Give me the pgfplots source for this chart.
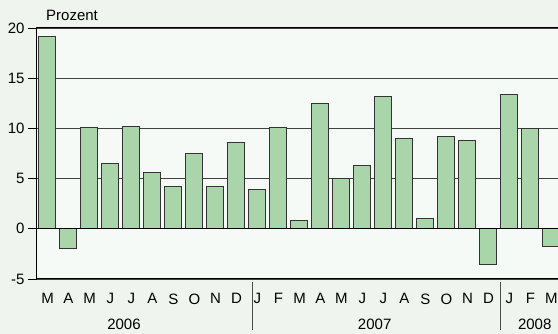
\documentclass[border=0pt]{standalone}
\usepackage{pgfplots}
\pgfplotsset{compat=1.18}
\usepackage{fontspec}
\setmainfont{Liberation Sans}
\definecolor{outerbg}{HTML}{EFF5EE}
\definecolor{innerbg}{HTML}{F5FAF6}
\definecolor{barfill}{HTML}{AAD4AA}
\definecolor{baredge}{HTML}{333333}
\begin{document}
\begin{tikzpicture}[x=1pt,y=1pt]
\fill[outerbg] (0,0) rectangle (558,334);
\useasboundingbox (0,0) rectangle (558,334);
\node[anchor=base west, font=\fontsize{15}{18}\selectfont, inner sep=0pt] at (46,313) {Prozent};
\begin{axis}[
  at={(37pt,55pt)}, anchor=south west,
  scale only axis, width=523pt, height=251pt,
  xmin=-0.5, xmax=24.405, ymin=-5, ymax=20,
  clip=false,
  axis background/.style={fill=innerbg},
  axis line style={black, line width=1pt},
  ytick={-5,0,5,10,15,20},
  ytick pos=left, xtick pos=bottom,
  tick align=outside, major tick length=9pt,
  ytick style={black, line width=0.8pt},
  xtick style={draw=none},
  /pgf/number format/assume math mode=true,
  yticklabel style={font=\fontsize{15}{18}\selectfont},
  xtick={0,...,24},
  xticklabels={M,A,M,J,J,A,S,O,N,D,J,F,M,A,M,J,J,A,S,O,N,D,J,F,M},
  xticklabel style={font=\fontsize{15}{18}\selectfont, yshift=-2pt},
  ymajorgrids, grid style={black!75, line width=0.6pt},
]
\addplot[ybar, bar width=17pt, fill=barfill, draw=baredge, line width=1pt]
coordinates {
(0,19.2) (1,-2.0) (2,10.1) (3,6.5) (4,10.2) (5,5.6) (6,4.2) (7,7.5) (8,4.2) (9,8.6)
(10,3.9) (11,10.1) (12,0.8) (13,12.5) (14,5.0) (15,6.3) (16,13.2) (17,9.0) (18,1.0) (19,9.2) (20,8.8) (21,-3.6)
(22,13.4) (23,10.0) (24,-1.8)
};
\draw[black, line width=1.2pt] (axis cs:-0.5,0) -- (axis cs:24.405,0);
\draw[black!70, line width=0.8pt] ([yshift=-3pt]axis cs:9.77,-5) -- ([yshift=-51pt]axis cs:9.77,-5);
\draw[black!70, line width=0.8pt] ([yshift=-3pt]axis cs:21.58,-5) -- ([yshift=-51pt]axis cs:21.58,-5);
\node[font=\fontsize{15}{18}\selectfont] at ([yshift=-45pt]axis cs:3.64,-5) {2006};
\node[font=\fontsize{15}{18}\selectfont] at ([yshift=-45pt]axis cs:15.58,-5) {2007};
\node[font=\fontsize{15}{18}\selectfont] at ([yshift=-45pt]axis cs:23.2,-5) {2008};
\end{axis}
\end{tikzpicture}
\end{document}
